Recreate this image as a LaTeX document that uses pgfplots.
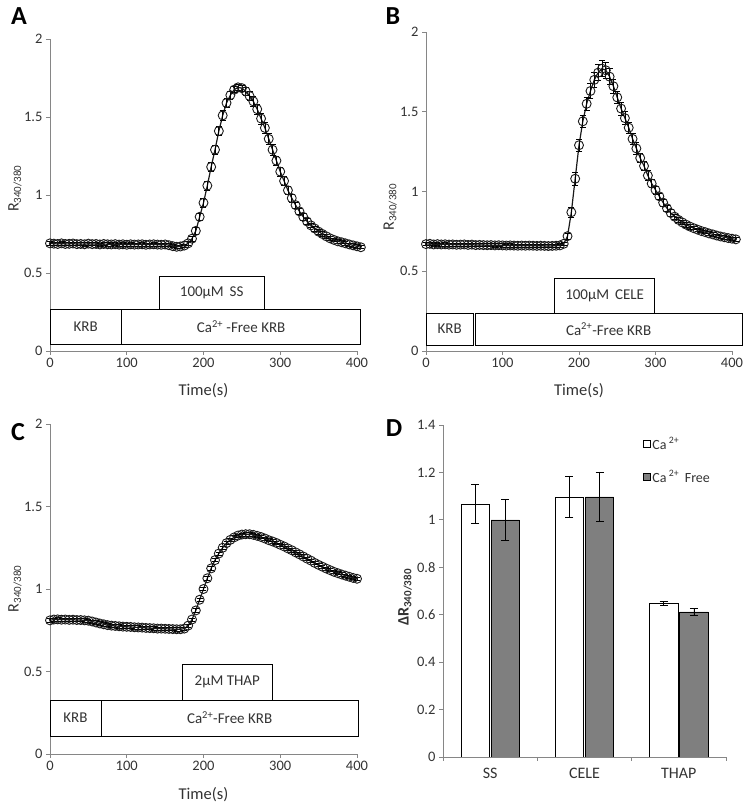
\documentclass[border=0pt]{standalone}
\usepackage{pgfplots}
\pgfplotsset{compat=1.18}
\usepackage{pgfplotstable}
\usepackage{fontspec}
\setmainfont{Carlito}
\definecolor{axgray}{HTML}{868686}
\definecolor{txt}{HTML}{333333}
\definecolor{bargray}{HTML}{7F7F7F}
\definecolor{mk}{HTML}{1A1A1A}

\pgfplotstableread{
t r e
0 0.690 0.01
5 0.688 0.01
10 0.686 0.01
15 0.690 0.01
20 0.686 0.01
25 0.687 0.01
30 0.689 0.01
35 0.685 0.01
40 0.686 0.01
45 0.684 0.01
50 0.688 0.01
55 0.685 0.01
60 0.686 0.01
65 0.683 0.01
70 0.686 0.01
75 0.684 0.01
80 0.683 0.01
85 0.685 0.01
90 0.682 0.01
95 0.684 0.01
100 0.681 0.01
105 0.684 0.01
110 0.682 0.01
115 0.683 0.01
120 0.684 0.01
125 0.681 0.01
130 0.683 0.01
135 0.684 0.01
140 0.682 0.01
145 0.681 0.01
150 0.683 0.01
155 0.678 0.01
160 0.672 0.01
165 0.668 0.01
170 0.670 0.01
175 0.676 0.01
180 0.690 0.01
185 0.720 0.015
190 0.770 0.02
195 0.860 0.025
200 0.950 0.03
205 1.060 0.03
210 1.180 0.03
215 1.290 0.03
220 1.410 0.03
225 1.510 0.03
230 1.590 0.03
235 1.640 0.025
240 1.675 0.02
245 1.690 0.02
250 1.685 0.02
255 1.665 0.025
260 1.635 0.03
265 1.600 0.03
270 1.550 0.03
275 1.490 0.035
280 1.430 0.035
285 1.360 0.035
290 1.290 0.035
295 1.220 0.03
300 1.150 0.03
305 1.090 0.03
310 1.030 0.025
315 0.980 0.025
320 0.935 0.02
325 0.895 0.02
330 0.860 0.02
335 0.830 0.02
340 0.805 0.015
345 0.785 0.015
350 0.765 0.015
355 0.750 0.015
360 0.735 0.01
365 0.722 0.01
370 0.712 0.01
375 0.703 0.01
380 0.697 0.01
385 0.690 0.01
390 0.683 0.01
395 0.677 0.01
400 0.671 0.01
405 0.665 0.01
}\dataA

\pgfplotstableread{
t r e
0 0.670 0.01
5 0.672 0.01
10 0.668 0.01
15 0.670 0.01
20 0.668 0.01
25 0.669 0.01
30 0.667 0.01
35 0.668 0.01
40 0.666 0.01
45 0.667 0.01
50 0.668 0.01
55 0.665 0.01
60 0.667 0.01
65 0.664 0.01
70 0.665 0.01
75 0.664 0.01
80 0.663 0.01
85 0.664 0.01
90 0.662 0.01
95 0.663 0.01
100 0.662 0.01
105 0.661 0.01
110 0.662 0.01
115 0.661 0.01
120 0.660 0.01
125 0.661 0.01
130 0.660 0.01
135 0.661 0.01
140 0.660 0.01
145 0.659 0.01
150 0.660 0.01
155 0.659 0.01
160 0.658 0.01
165 0.659 0.01
170 0.660 0.01
175 0.662 0.01
180 0.672 0.01
185 0.720 0.02
190 0.870 0.03
195 1.080 0.04
200 1.290 0.04
205 1.440 0.04
210 1.550 0.04
215 1.630 0.045
220 1.700 0.05
225 1.745 0.05
230 1.770 0.05
235 1.760 0.05
240 1.720 0.05
245 1.660 0.045
250 1.590 0.04
255 1.520 0.04
260 1.460 0.04
265 1.400 0.035
270 1.330 0.035
275 1.270 0.035
280 1.210 0.03
285 1.160 0.03
290 1.100 0.03
295 1.050 0.025
300 1.010 0.025
305 0.970 0.02
310 0.930 0.02
315 0.895 0.02
320 0.865 0.02
325 0.842 0.015
330 0.822 0.015
335 0.806 0.015
340 0.792 0.015
345 0.780 0.015
350 0.770 0.01
355 0.761 0.01
360 0.752 0.01
365 0.745 0.01
370 0.737 0.01
375 0.731 0.01
380 0.724 0.01
385 0.718 0.01
390 0.713 0.01
395 0.708 0.01
400 0.704 0.01
405 0.700 0.01
}\dataB

\pgfplotstableread{
t r e
0 0.810 0.01
5 0.815 0.01
10 0.816 0.01
15 0.814 0.01
20 0.815 0.01
25 0.813 0.01
30 0.814 0.01
35 0.812 0.01
40 0.812 0.01
45 0.810 0.01
50 0.808 0.01
55 0.803 0.01
60 0.797 0.01
65 0.791 0.01
70 0.786 0.01
75 0.781 0.01
80 0.778 0.01
85 0.776 0.01
90 0.774 0.01
95 0.772 0.01
100 0.771 0.01
105 0.770 0.01
110 0.768 0.01
115 0.767 0.01
120 0.766 0.01
125 0.764 0.01
130 0.763 0.01
135 0.762 0.01
140 0.760 0.01
145 0.760 0.01
150 0.759 0.01
155 0.758 0.01
160 0.757 0.01
165 0.756 0.01
170 0.756 0.01
175 0.760 0.01
180 0.778 0.01
185 0.815 0.01
190 0.870 0.01
195 0.935 0.01
200 1.000 0.01
205 1.065 0.01
210 1.125 0.01
215 1.175 0.01
220 1.215 0.01
225 1.250 0.01
230 1.278 0.01
235 1.298 0.01
240 1.313 0.01
245 1.324 0.01
250 1.330 0.01
255 1.332 0.01
260 1.332 0.01
265 1.328 0.01
270 1.322 0.01
275 1.315 0.01
280 1.306 0.01
285 1.296 0.01
290 1.288 0.01
295 1.279 0.01
300 1.268 0.01
305 1.258 0.01
310 1.246 0.01
315 1.235 0.01
320 1.222 0.01
325 1.210 0.01
330 1.197 0.01
335 1.184 0.01
340 1.172 0.01
345 1.158 0.01
350 1.146 0.01
355 1.135 0.01
360 1.124 0.01
365 1.114 0.01
370 1.104 0.01
375 1.096 0.01
380 1.088 0.01
385 1.081 0.01
390 1.074 0.01
395 1.067 0.01
400 1.062 0.01
}\dataC

\pgfplotsset{
  excel/.style={
    scale only axis,
    axis x line=bottom, axis y line=left,
    axis line style={-, axgray, line width=0.8pt},
    tick style={axgray, line width=0.8pt},
    tick align=outside,
    major tick length=4pt,
    minor tick length=4pt,
    tick label style={font=\fontsize{14.5}{16}\selectfont, text=txt},
    /pgf/number format/assume math mode=true,
  },
  ts/.style={
    excel, xmin=0, xmax=400, ymin=0, ymax=2,
    xtick={0,100,200,300,400}, ytick={0,0.5,1,1.5,2},
    clip=false,
    xlabel={Time(s)},
    ylabel={R\raisebox{-0.35ex}{\fontsize{11}{11}\selectfont 340/380}},
    xlabel style={anchor=center, font=\fontsize{16.5}{18}\selectfont, text=txt},
    ylabel style={anchor=center, rotate=0, font=\fontsize{16}{18}\selectfont, text=txt},
  },
  tsline/.style={mk, line width=1.2pt, mark=o, mark size=4.5pt,
    mark options={line width=0.9pt, mk},
    error bars/.cd, y dir=both, y explicit,
    error bar style={line width=0.7pt, black},
    error mark options={rotate=90, mark size=3pt, line width=0.7pt, black}},
}
\tikzset{boxst/.style={draw=black, line width=0.7pt, fill=white}}
\newcommand{\boxfont}{\fontsize{15}{17}\selectfont\color{txt}}

\begin{document}
\begin{tikzpicture}
\useasboundingbox (0pt,0pt) rectangle (749pt,809pt);

% Panel A
\begin{axis}[ts, at={(50pt,458pt)}, anchor=south west, width=307pt, height=312pt,
  xlabel style={at={(axis description cs:0.5,-0.128)}},
  ylabel style={at={(axis description cs:-0.114,0.52)}}]
  \draw[boxst] (axis cs:0,0.045) rectangle (axis cs:93,0.267);
  \draw[boxst] (axis cs:93,0.045) rectangle (axis cs:405,0.267);
  \draw[boxst] (axis cs:142.5,0.267) rectangle (axis cs:279,0.476);
  \node[font=\boxfont] at (axis cs:46.5,0.156) {KRB};
  \node[font=\boxfont] at (axis cs:249,0.156) {Ca\textsuperscript{2+} -Free KRB};
  \node[font=\boxfont] at (axis cs:210.7,0.372) {100µM\, SS};
  \addplot[tsline] table[x=t, y=r, y error=e] {\dataA};
\end{axis}

% Panel B
\begin{axis}[ts, at={(426pt,458pt)}, anchor=south west, width=306pt, height=319pt,
  xlabel style={at={(axis description cs:0.5,-0.124)}},
  ylabel style={at={(axis description cs:-0.117,0.45)}}]
  \draw[boxst] (axis cs:0,0.038) rectangle (axis cs:62,0.236);
  \draw[boxst] (axis cs:64.4,0.038) rectangle (axis cs:413,0.236);
  \draw[boxst] (axis cs:168,0.236) rectangle (axis cs:299,0.456);
  \node[font=\boxfont] at (axis cs:31,0.137) {KRB};
  \node[font=\boxfont] at (axis cs:238.7,0.137) {Ca\textsuperscript{2+}-Free KRB};
  \node[font=\boxfont] at (axis cs:233.5,0.346) {100µM\, CELE};
  \addplot[tsline] table[x=t, y=r, y error=e] {\dataB};
\end{axis}

% Panel C
\begin{axis}[ts, at={(50pt,55pt)}, anchor=south west, width=307pt, height=330pt,
  xlabel style={at={(axis description cs:0.5,-0.124)}},
  ylabel style={at={(axis description cs:-0.114,0.5)}}]
  \draw[boxst] (axis cs:0,0.109) rectangle (axis cs:66.4,0.327);
  \draw[boxst] (axis cs:66.4,0.109) rectangle (axis cs:401.8,0.327);
  \draw[boxst] (axis cs:172.4,0.327) rectangle (axis cs:289.7,0.544);
  \node[font=\boxfont] at (axis cs:33.2,0.218) {KRB};
  \node[font=\boxfont] at (axis cs:234,0.218) {Ca\textsuperscript{2+}-Free KRB};
  \node[font=\boxfont] at (axis cs:231,0.436) {2µM THAP};
  \addplot[tsline] table[x=t, y=r, y error=e] {\dataC};
\end{axis}

% Panel D
\begin{axis}[excel, at={(443pt,52pt)}, anchor=south west, width=283pt, height=332pt,
  ymin=0, ymax=1.4, ytick={0,0.2,0.4,0.6,0.8,1,1.2,1.4},
  xmin=0.5, xmax=3.5, xtick={1,2,3}, xticklabels={SS,CELE,THAP},
  x tick label style={font=\fontsize{16}{18}\selectfont, text=txt, yshift=-4pt},
  major x tick style={draw=none},
  minor xtick={0.5,1.5,2.5,3.5},
  minor x tick style={axgray, line width=0.8pt},
  ybar, bar width=0.3,
  ylabel={ΔR\raisebox{-0.35ex}{\fontsize{11}{11}\selectfont 340/380}},
  ylabel style={at={(axis description cs:-0.134,0.48)}, anchor=center, font=\fontsize{16}{18}\selectfont\bfseries, text=txt},
  legend style={draw=none, fill=none, at={(axis description cs:0.695,0.975)}, anchor=north west,
    row sep=16pt, font=\fontsize{14}{16}\selectfont, text=txt, legend cell align=left},
  error bars/y dir=both, error bars/y explicit,
  error bars/error bar style={black, line width=0.8pt},
  error bars/error mark options={rotate=90, mark size=4pt, black, line width=0.8pt},
]
  \addplot[fill=white, draw=black, line width=0.6pt, bar shift=-0.16,
    legend image code/.code={\draw[fill=white, draw=black, line width=0.6pt] (0pt,-3.5pt) rectangle (7pt,3.5pt);}]
    coordinates {(1,1.066) +- (0,0.083) (2,1.097) +- (0,0.088) (3,0.648) +- (0,0.007)};
  \addlegendentry{Ca\,\textsuperscript{2+}}
  \addplot[fill=bargray, draw=black, line width=0.6pt, bar shift=0.16,
    legend image code/.code={\draw[fill=bargray, draw=black, line width=0.6pt] (0pt,-3.5pt) rectangle (7pt,3.5pt);}]
    coordinates {(1,1.0) +- (0,0.085) (2,1.097) +- (0,0.105) (3,0.612) +- (0,0.015)};
  \addlegendentry{Ca\,\textsuperscript{2+}\, Free}
\end{axis}

% Panel letters
\node[font=\fontsize{26}{26}\selectfont\bfseries] at (19pt,793pt) {A};
\node[font=\fontsize{26}{26}\selectfont\bfseries] at (393pt,793pt) {B};
\node[font=\fontsize{26}{26}\selectfont\bfseries] at (18pt,377pt) {C};
\node[font=\fontsize{26}{26}\selectfont\bfseries] at (394pt,381pt) {D};
\end{tikzpicture}
\end{document}
